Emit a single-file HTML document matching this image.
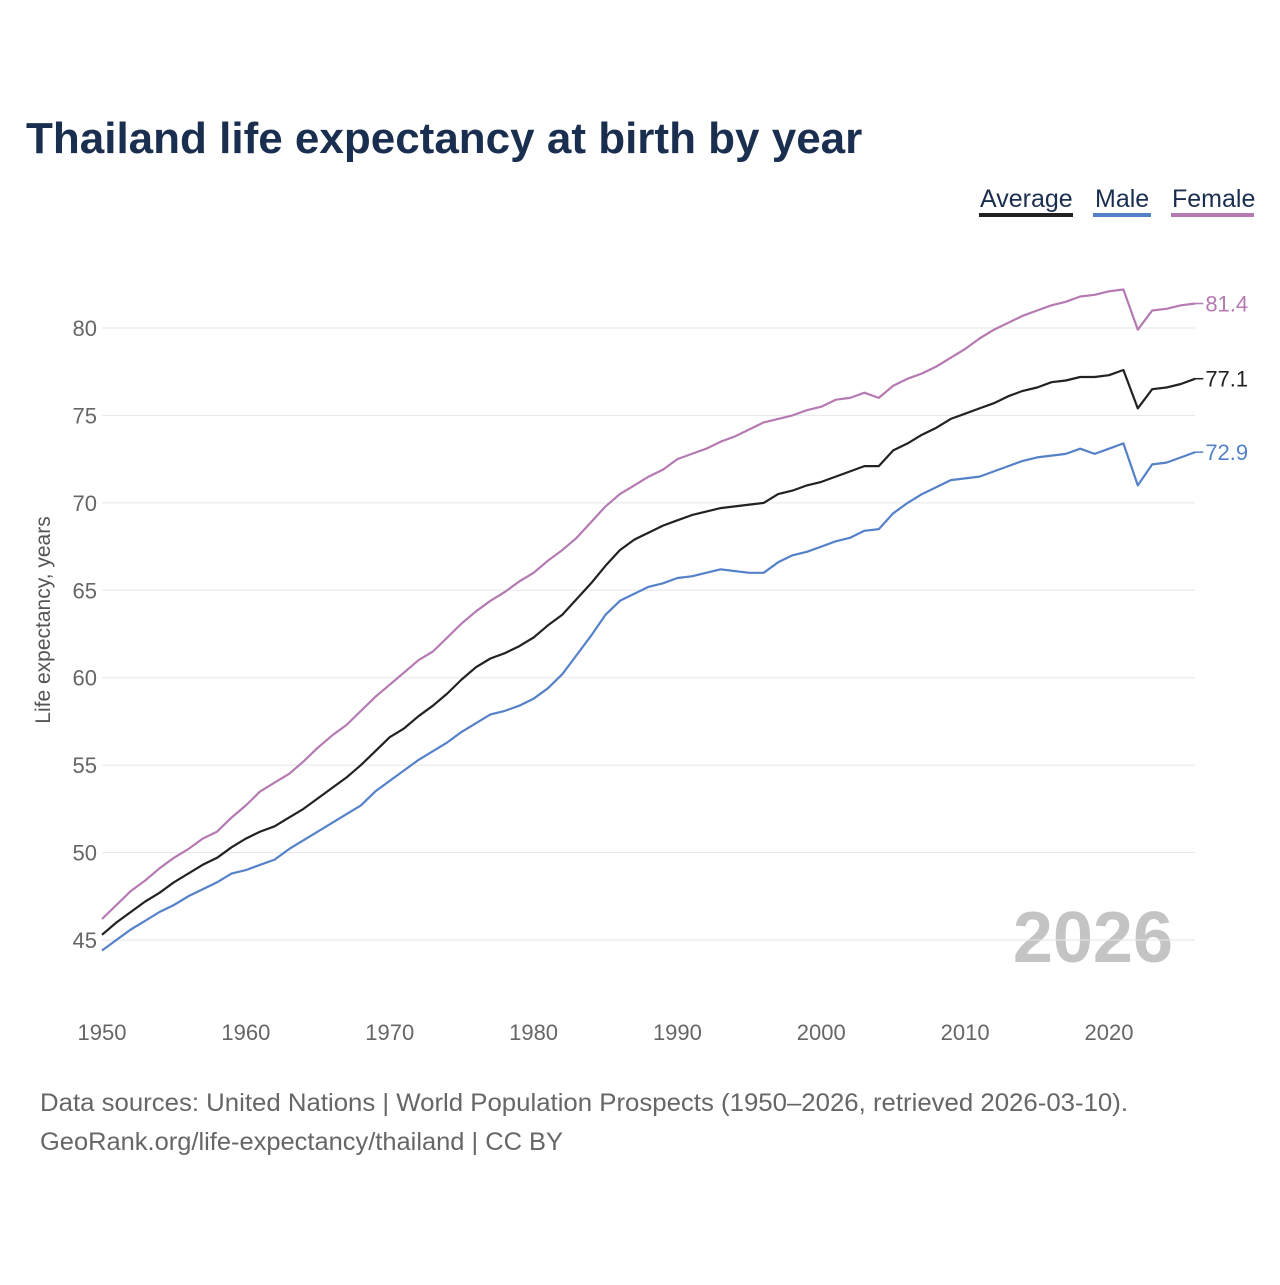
<!DOCTYPE html>
<html><head><meta charset="utf-8"><style>
body{margin:0;background:#fff;font-family:"Liberation Sans",sans-serif}
</style></head><body>
<svg id="chart" width="1280" height="1280" xmlns="http://www.w3.org/2000/svg">
<rect width="1280" height="1280" fill="#fff"/>
<text x="26" y="153" font-size="44" font-weight="bold" fill="#1a2e4f">Thailand life expectancy at birth by year</text>
<g>
<text x="980" y="207" font-size="25" fill="#1a2e4f">Average</text>
<rect x="979" y="213" width="94" height="4" fill="#222"/>
<text x="1095" y="207" font-size="25" fill="#1a2e4f">Male</text>
<rect x="1093" y="213" width="58" height="4" fill="#5581c9"/>
<text x="1172" y="207" font-size="25" fill="#1a2e4f">Female</text>
<rect x="1171" y="213" width="83" height="4" fill="#b67ab3"/>
</g>
<text transform="translate(50,620) rotate(-90)" text-anchor="middle" font-size="21" fill="#555">Life expectancy, years</text>
<text x="1173" y="962" text-anchor="end" font-size="72" font-weight="bold" fill="#c4c4c4">2026</text>
<g id="grid"></g><g id="xt"></g><g id="lines"></g>
<text x="40" y="1111" font-size="25" textLength="1088" lengthAdjust="spacingAndGlyphs" fill="#666">Data sources: United Nations | World Population Prospects (1950–2026, retrieved 2026-03-10).</text>
<text x="40" y="1150" font-size="25" textLength="523" lengthAdjust="spacingAndGlyphs" fill="#666">GeoRank.org/life-expectancy/thailand | CC BY</text>
</svg>
<script>
const years=[];for(let y=1950;y<=2026;y++)years.push(y);
const yTicks=[45,50,55,60,65,70,75,80];
const xTicks=[1950,1960,1970,1980,1990,2000,2010,2020];
const female=[46.2,47.0,47.8,48.4,49.1,49.7,50.2,50.8,51.2,52.0,52.7,53.5,54.0,54.5,55.2,56.0,56.7,57.3,58.1,58.9,59.6,60.3,61.0,61.5,62.3,63.1,63.8,64.4,64.9,65.5,66.0,66.7,67.3,68.0,68.9,69.8,70.5,71.0,71.5,71.9,72.5,72.8,73.1,73.5,73.8,74.2,74.6,74.8,75.0,75.3,75.5,75.9,76.0,76.3,76.0,76.7,77.1,77.4,77.8,78.3,78.8,79.4,79.9,80.3,80.7,81.0,81.3,81.5,81.8,81.9,82.1,82.2,79.9,81.0,81.1,81.3,81.4];
const average=[45.3,46.0,46.6,47.2,47.7,48.3,48.8,49.3,49.7,50.3,50.8,51.2,51.5,52.0,52.5,53.1,53.7,54.3,55.0,55.8,56.6,57.1,57.8,58.4,59.1,59.9,60.6,61.1,61.4,61.8,62.3,63.0,63.6,64.5,65.4,66.4,67.3,67.9,68.3,68.7,69.0,69.3,69.5,69.7,69.8,69.9,70.0,70.5,70.7,71.0,71.2,71.5,71.8,72.1,72.1,73.0,73.4,73.9,74.3,74.8,75.1,75.4,75.7,76.1,76.4,76.6,76.9,77.0,77.2,77.2,77.3,77.6,75.4,76.5,76.6,76.8,77.1];
const male=[44.4,45.0,45.6,46.1,46.6,47.0,47.5,47.9,48.3,48.8,49.0,49.3,49.6,50.2,50.7,51.2,51.7,52.2,52.7,53.5,54.1,54.7,55.3,55.8,56.3,56.9,57.4,57.9,58.1,58.4,58.8,59.4,60.2,61.3,62.4,63.6,64.4,64.8,65.2,65.4,65.7,65.8,66.0,66.2,66.1,66.0,66.0,66.6,67.0,67.2,67.5,67.8,68.0,68.4,68.5,69.4,70.0,70.5,70.9,71.3,71.4,71.5,71.8,72.1,72.4,72.6,72.7,72.8,73.1,72.8,73.1,73.4,71.0,72.2,72.3,72.6,72.9];
const NS="http://www.w3.org/2000/svg";
const X=y=>102+(y-1950)*1007/70, Y=v=>328+(80-v)*612/35;
function mk(t,a,p){const e=document.createElementNS(NS,t);for(const k in a)e.setAttribute(k,a[k]);p.appendChild(e);return e;}
const grid=document.getElementById('grid'),xt=document.getElementById('xt'),lines=document.getElementById('lines');
yTicks.forEach(v=>{
const l=mk('line',{x1:102,x2:1195,y1:Y(v),y2:Y(v),stroke:'#e6e6e6','stroke-width':1},grid);


const t=mk('text',{x:97,y:Y(v)+8,'text-anchor':'end','font-size':22,fill:'#666'},grid);t.textContent=v;


});
xTicks.forEach(v=>{
const t=mk('text',{x:X(v),y:1040,'text-anchor':'middle','font-size':22,fill:'#666'},xt);t.textContent=v;


});
[[female,'#b67ab3','female'],[average,'#222','average'],[male,'#5581c9','male']].forEach(([d,c,n])=>{
const p=mk('path',{d:d.map((v,i)=>(i?'L':'M')+X(years[i]).toFixed(1)+','+Y(v).toFixed(1)).join(''),fill:'none',stroke:c,'stroke-width':2.2,'stroke-linejoin':'round'},lines);


const lv=d[d.length-1],lx=X(years[years.length-1]);
const tk=mk('line',{x1:lx,x2:lx+8,y1:Y(lv),y2:Y(lv),stroke:c,'stroke-width':1.5},lines);


const t=mk('text',{x:lx+10,y:Y(lv)+8,'font-size':22,fill:c},lines);t.textContent=lv.toFixed(1);


});
</script>
</body></html>
